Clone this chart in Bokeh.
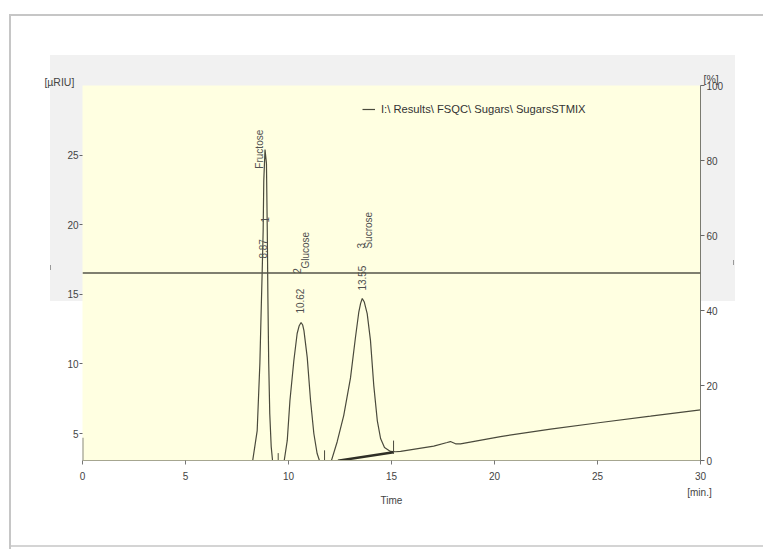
import math
from bokeh.plotting import figure
from bokeh.models import (Range1d, LinearAxis, Span, Label, Legend, LegendItem,
                          FixedTicker, ColumnDataSource)
from bokeh.core.properties import value
from bokeh.embed import file_html
from bokeh.resources import INLINE

# ---------------- data ----------------
time_min = [0.0, 8.0, 8.24, 8.48, 8.61, 8.67, 8.72, 8.77, 8.80, 8.86, 8.93, 8.97,
            9.00, 9.04, 9.09, 9.16, 9.24, 9.60,
            9.77, 9.94, 10.07, 10.26, 10.42, 10.52, 10.61, 10.69, 10.75, 10.91,
            11.07, 11.23, 11.39, 11.55, 11.90,
            12.04, 12.36, 12.68, 13.01, 13.25, 13.41, 13.50, 13.58, 13.68, 13.82,
            13.98, 14.14, 14.31, 14.47, 14.66, 14.95, 15.20, 15.44,
            17.05, 17.70, 17.86, 18.11, 18.35, 20.29, 22.72, 25.15, 27.57, 30.0]
signal_uriu = [2.5, 2.6, 2.85, 5.22, 10.03, 13.62, 16.49, 19.58, 23.17, 25.4, 24.39, 19.58,
               14.77, 10.03, 6.44, 4.07, 2.85, 2.7,
               2.85, 4.51, 7.38, 10.25, 12.19, 12.75, 12.98, 12.80, 12.40, 10.46,
               7.38, 5.01, 3.57, 2.85, 2.7,
               2.85, 4.40, 6.30, 9.00, 11.90, 13.70, 14.35, 14.70, 14.45, 13.62,
               11.68, 8.45, 5.94, 4.65, 4.00, 3.72, 3.70, 3.72,
               4.10, 4.36, 4.43, 4.27, 4.27, 4.79, 5.32, 5.80, 6.25, 6.71]

peak_rt = [8.87, 10.62, 13.55]
peak_id = ["1", "2", "3"]
peak_name = ["Fructose", "Glucose", "Sucrose"]

marker_time = [9.50, 11.75, 15.10]
marker_low = [2.9, 2.9, 3.55]
marker_high = [3.6, 3.8, 4.5]

baseline_time = [12.40, 15.10]
baseline_signal = [3.05, 3.66]

gradient_pct = 50

x_ticks = [0, 5, 10, 15, 20, 25, 30]
left_ticks = [5, 10, 15, 20, 25]
right_ticks = [0, 20, 40, 60, 80, 100]
legend_text = "I:\\ Results\\ FSQC\\ Sugars\\ SugarsSTMIX"

# ---------------- layout of peak annotations ----------------
rt_lab_x = [8.74, 10.58, 13.59]
rt_lab_y = [17.57, 13.62, 15.27]
id_lab_x = [8.88, 10.39, 13.50]
id_lab_y = [20.16, 16.49, 18.29]
nm_lab_x = [8.59, 10.83, 13.88]
nm_lab_y = [24.03, 16.85, 18.29]

FONT = "Liberation Sans"
TXT = "#444444"
LINE = "#4a4a3c"

y_lo, y_hi = 3.07, 30.0

p = figure(width=763, height=549, x_range=Range1d(0, 30), y_range=Range1d(y_lo, y_hi),
           output_backend="svg", toolbar_location=None,
           min_border_left=82, min_border_right=63, min_border_top=85, min_border_bottom=89,
           background_fill_color="#ffffe1", border_fill_color=None,
           outline_line_color=None)
p.grid.visible = False

# screenshot surroundings: light grey panel behind the top of the chart, page frame lines
p.styles = {
    "background": (
        "linear-gradient(#999999,#999999) 50px 265px / 1px 5px no-repeat,"
        "linear-gradient(#999999,#999999) 733px 260px / 1px 5px no-repeat,"
        "linear-gradient(#c6c6c6,#c6c6c6) 9px 14px / 2px 535px no-repeat,"
        "linear-gradient(#c6c6c6,#c6c6c6) 9px 14px / 754px 2px no-repeat,"
        "linear-gradient(#d4d4d4,#d4d4d4) 9px 545px / 754px 2px no-repeat,"
        "linear-gradient(#f1f1f1,#f1f1f1) 50px 55px / 685px 246px no-repeat,"
        "#ffffff"
    )
}

# axes
xa = p.xaxis[0]
xa.ticker = FixedTicker(ticks=x_ticks)
xa.axis_line_color = "#a6a690"
xa.major_tick_line_color = "#777777"
xa.major_tick_out = 4
xa.major_tick_in = 0
xa.minor_tick_line_color = None
xa.major_label_text_font = FONT
xa.major_label_text_font_size = "10px"
xa.major_label_text_color = TXT
xa.major_label_standoff = 7
xa.axis_label = "Time"
xa.axis_label_text_font = FONT
xa.axis_label_text_font_size = "10px"
xa.axis_label_text_font_style = "normal"
xa.axis_label_text_color = TXT
xa.axis_label_standoff = 12

ya = p.yaxis[0]
ya.ticker = FixedTicker(ticks=left_ticks)
ya.axis_line_color = None
ya.major_tick_line_color = "#666666"
ya.major_tick_out = 3
ya.major_tick_in = 0
ya.minor_tick_line_color = None
ya.major_label_text_font = FONT
ya.major_label_text_font_size = "10px"
ya.major_label_text_color = TXT
ya.major_label_standoff = 1

p.extra_y_ranges = {"pct": Range1d(0, 100)}
ra = LinearAxis(y_range_name="pct", ticker=FixedTicker(ticks=right_ticks))
ra.axis_line_color = "#7a7a70"
ra.major_tick_line_color = "#666666"
ra.major_tick_out = 4
ra.major_tick_in = 0
ra.minor_tick_line_color = None
ra.major_label_text_font = FONT
ra.major_label_text_font_size = "10px"
ra.major_label_text_color = TXT
ra.major_label_standoff = 2
p.add_layout(ra, "right")

# short left axis stub at bottom
p.segment(x0=[0], y0=[y_lo], x1=[0], y1=[4.7], line_color="#8a8a80", line_width=2)

# reference line at 50 %
p.add_layout(Span(location=gradient_pct, dimension="width", y_range_name="pct",
                  line_color="#555548", line_width=1.3))

# signal
src = ColumnDataSource(dict(t=time_min, s=signal_uriu))
sig = p.line("t", "s", source=src, line_color=LINE, line_width=1.2)

# integration baseline and markers
p.line(baseline_time, baseline_signal, line_color="#2f2f26", line_width=2.4)
p.segment(x0=marker_time, y0=marker_low, x1=marker_time, y1=marker_high,
          line_color=LINE, line_width=1)

# peak annotations (vertical)
rt_text = ["%.2f" % v for v in peak_rt]
common = dict(angle=math.pi / 2, text_align="left", text_baseline="middle",
              text_font=value(FONT), text_font_size="10px", text_color="#505050")
p.text(x=rt_lab_x, y=rt_lab_y, text=rt_text, **common)
p.text(x=id_lab_x, y=id_lab_y, text=peak_id, **common)
p.text(x=nm_lab_x, y=nm_lab_y, text=peak_name, **common)

# unit labels (placed in side panels so they are not clipped to the frame)
p.add_layout(Label(x=-1.85, y=30.25, text="[µRIU]", text_align="left", text_baseline="middle",
                   text_font=FONT, text_font_size="10.5px", text_color=TXT), "above")
p.add_layout(Label(x=30.15, y=30.45, text="[%]", text_align="left", text_baseline="middle",
                   text_font=FONT, text_font_size="10.5px", text_color=TXT), "above")
p.add_layout(Label(x=29.95, y=0.77, text="[min.]", text_align="center", text_baseline="middle",
                   text_font=FONT, text_font_size="10px", text_color=TXT), "below")

# legend
leg = Legend(items=[LegendItem(label=legend_text, renderers=[sig])],
             location=(280, 345), background_fill_alpha=0, border_line_color=None,
             label_text_font=FONT, label_text_font_size="11.2px", label_text_color="#333333",
             glyph_width=13, glyph_height=10, padding=2, margin=0, label_standoff=6,
             label_height=12)
p.add_layout(leg)

open("out.html", "w").write(file_html(p, INLINE))
